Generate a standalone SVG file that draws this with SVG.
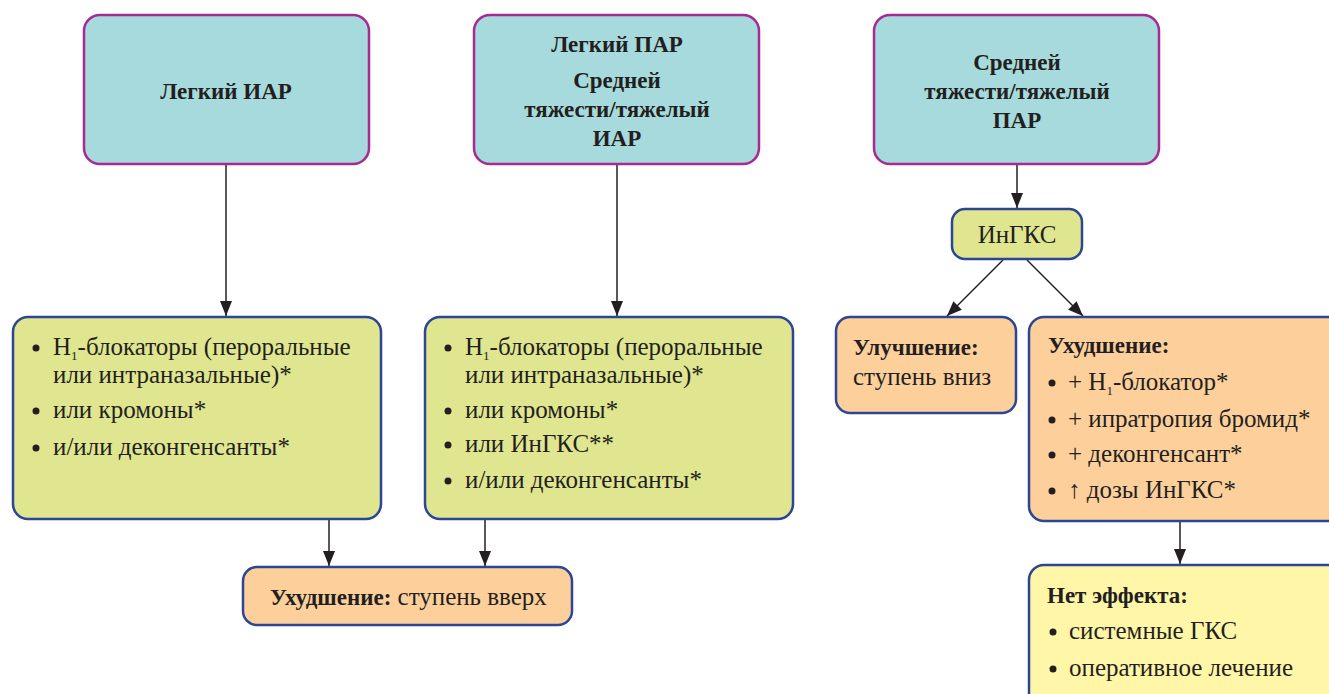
<svg xmlns="http://www.w3.org/2000/svg" width="1329" height="694" viewBox="0 0 1329 694">
<style>
.top{fill:#a6dadc;stroke:#a52a91;stroke-width:2.5}
.grn{fill:#dfe68f;stroke:#2c4595;stroke-width:2.5}
.org{fill:#fdd09b;stroke:#2c4595;stroke-width:2.5}
.yel{fill:#fff6a8;stroke:#2c4595;stroke-width:2.5}
text{font-family:"Liberation Serif","Times New Roman",serif;fill:#231f20;font-size:25px}
.b{font-weight:bold;font-size:23px}
.t{font-weight:bold;font-size:23px;text-anchor:middle}
.c{text-anchor:middle}
.sub{font-size:13px}
.dot{fill:#231f20}
.ln{stroke:#231f20;stroke-width:1.5;fill:none;marker-end:url(#ah)}
</style>
<defs>
<marker id="ah" markerUnits="userSpaceOnUse" markerWidth="16" markerHeight="12" refX="15" refY="6" orient="auto">
<path d="M0,0 L15,6 L0,12 z" fill="#231f20"/>
</marker>
</defs>
<g id="connectors">
<line class="ln" x1="226" y1="164" x2="226" y2="316"/>
<line class="ln" x1="617" y1="164" x2="617" y2="316"/>
<line class="ln" x1="1017" y1="164" x2="1017" y2="208"/>
<line class="ln" x1="1003" y1="260" x2="947" y2="316"/>
<line class="ln" x1="1027" y1="260" x2="1083" y2="316"/>
<line class="ln" x1="329" y1="519" x2="329" y2="566"/>
<line class="ln" x1="485" y1="519" x2="485" y2="566"/>
<line class="ln" x1="1180" y1="521" x2="1180" y2="564"/>
</g>
<g id="n1">
<rect class="top" x="84" y="15" width="285" height="149" rx="16"/>
<text class="t" x="226" y="99">Легкий ИАР</text>
</g>
<g id="n2">
<rect class="top" x="474" y="15" width="285" height="149" rx="16"/>
<text class="t" x="617" y="52">Легкий ПАР</text>
<text class="t" x="617" y="88">Средней</text>
<text class="t" x="617" y="117">тяжести/тяжелый</text>
<text class="t" x="617" y="146">ИАР</text>
</g>
<g id="n3">
<rect class="top" x="874" y="15" width="285" height="149" rx="16"/>
<text class="t" x="1017" y="70">Средней</text>
<text class="t" x="1017" y="99">тяжести/тяжелый</text>
<text class="t" x="1017" y="128">ПАР</text>
</g>
<g id="n4">
<rect class="grn" x="952" y="209" width="130" height="50" rx="13"/>
<text class="c" x="1017" y="243">ИнГКС</text>
</g>
<g id="n5">
<rect class="grn" x="13" y="317" width="368" height="202" rx="15"/>
<circle class="dot" cx="36" cy="348" r="3.5"/>
<text x="53" y="355">H<tspan class="sub" dy="5">1</tspan><tspan dy="-5">-блокаторы (пероральные</tspan></text>
<text x="53" y="383">или интраназальные)*</text>
<circle class="dot" cx="36" cy="411" r="3.5"/>
<text x="53" y="418">или кромоны*</text>
<circle class="dot" cx="36" cy="448" r="3.5"/>
<text x="53" y="455">и/или деконгенсанты*</text>
</g>
<g id="n6">
<rect class="grn" x="425" y="317" width="368" height="202" rx="15"/>
<circle class="dot" cx="448" cy="348" r="3.5"/>
<text x="465" y="355">H<tspan class="sub" dy="5">1</tspan><tspan dy="-5">-блокаторы (пероральные</tspan></text>
<text x="465" y="383">или интраназальные)*</text>
<circle class="dot" cx="448" cy="411" r="3.5"/>
<text x="465" y="418">или кромоны*</text>
<circle class="dot" cx="448" cy="445" r="3.5"/>
<text x="465" y="452">или ИнГКС**</text>
<circle class="dot" cx="448" cy="481" r="3.5"/>
<text x="465" y="488">и/или деконгенсанты*</text>
</g>
<g id="n7">
<rect class="org" x="243" y="567" width="329" height="58" rx="14"/>
<text x="270" y="605"><tspan class="b">Ухудшение:</tspan> ступень вверх</text>
</g>
<g id="n8">
<rect class="org" x="836" y="317" width="180" height="96" rx="14"/>
<text class="b" x="853" y="355">Улучшение:</text>
<text x="853" y="385">ступень вниз</text>
</g>
<g id="n9">
<rect class="org" x="1029" y="317" width="320" height="204" rx="15"/>
<text class="b" x="1048" y="353">Ухудшение:</text>
<circle class="dot" cx="1052" cy="383" r="3.5"/>
<text x="1068" y="390">+ H<tspan class="sub" dy="5">1</tspan><tspan dy="-5">-блокатор*</tspan></text>
<circle class="dot" cx="1052" cy="420" r="3.5"/>
<text x="1068" y="427">+ ипратропия бромид*</text>
<circle class="dot" cx="1052" cy="455" r="3.5"/>
<text x="1068" y="462">+ деконгенсант*</text>
<circle class="dot" cx="1052" cy="491" r="3.5"/>
<text x="1068" y="498">↑ дозы ИнГКС*</text>
</g>
<g id="n10">
<rect class="yel" x="1029" y="565" width="320" height="150" rx="15"/>
<text class="b" x="1047" y="603">Нет эффекта:</text>
<circle class="dot" cx="1053" cy="632" r="3.5"/>
<text x="1069" y="639">системные ГКС</text>
<circle class="dot" cx="1053" cy="669" r="3.5"/>
<text x="1069" y="676">оперативное лечение</text>
</g>
</svg>
